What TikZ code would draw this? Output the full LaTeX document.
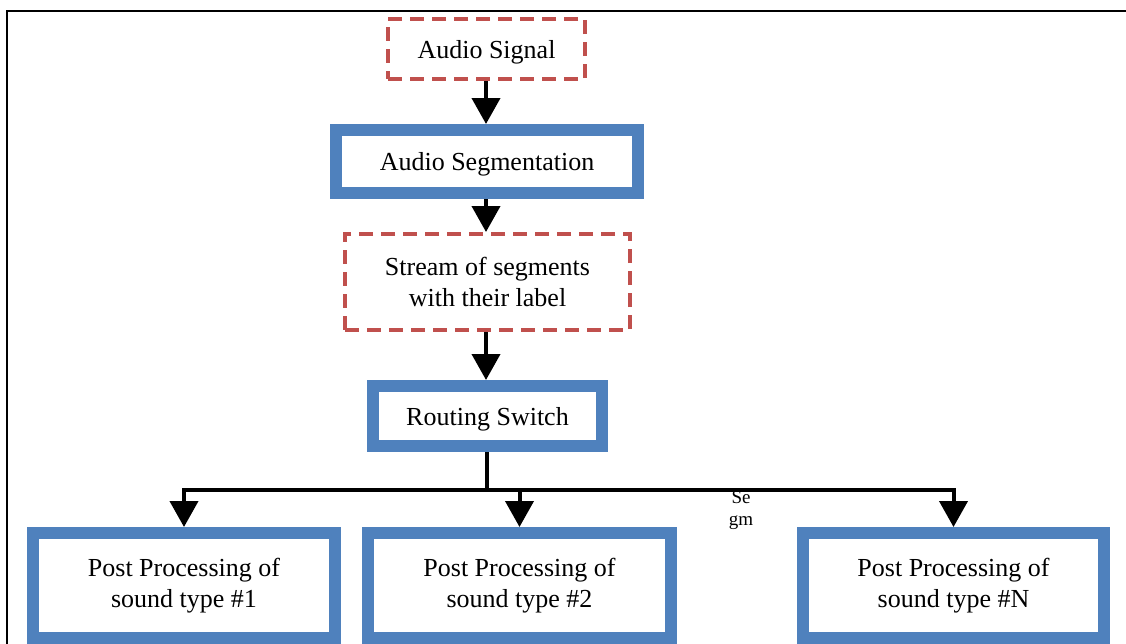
\documentclass[tikz,border=0pt]{standalone}
\usepackage{fontspec}
\setmainfont{Liberation Serif}
\usetikzlibrary{arrows.meta}
\definecolor{boxblue}{HTML}{4F81BD}
\definecolor{boxred}{HTML}{C0504D}
\tikzset{
  bluebox/.style={draw=boxblue, line width=12pt, fill=white, rectangle, align=center, inner sep=0pt,
    font=\fontsize{26}{31}\selectfont},
  redbox/.style={draw=boxred, line width=4pt, dash pattern=on 14pt off 8pt, fill=white, rectangle, align=center, inner sep=0pt,
    font=\fontsize{26}{31}\selectfont},
  oneline/.style={text depth=0pt},
  conn/.style={line width=4pt, draw=black},
  arr/.style={conn, -{Triangle[length=26pt,width=28pt]}},
}
\begin{document}
\begin{tikzpicture}[x=1pt,y=-1pt]
\useasboundingbox (0,0) rectangle (1126,643);
\clip (0,0) rectangle (1126,643);
\fill[white] (0,0) rectangle (1126,643);
% frame
\draw[line width=2pt] (7,650) -- (7,10.5) -- (1130,10.5);
% nodes
\node[redbox, oneline, minimum width=197pt, minimum height=60pt] (sig) at (486.5,49) {Audio Signal};
\node[bluebox, oneline, minimum width=302pt, minimum height=63pt] (seg) at (487,161.5) {Audio Segmentation};
\node[redbox, minimum width=285pt, minimum height=96pt] (str) at (487.5,282) {Stream of segments\\with their label};
\node[bluebox, oneline, minimum width=229pt, minimum height=60pt] (rs) at (487.5,416) {Routing Switch};
\node[bluebox, minimum width=302pt, minimum height=105pt] (p1) at (184,585.5) {Post Processing of\\sound type \#1};
\node[bluebox, minimum width=303pt, minimum height=105pt] (p2) at (519.5,585.5) {Post Processing of\\sound type \#2};
\node[bluebox, minimum width=301pt, minimum height=105pt] (pN) at (953.5,585.5) {Post Processing of\\sound type \#N};
% stray label
\node[font=\fontsize{19}{22}\selectfont, align=center, inner sep=0pt] (se) at (741,510) {Se\\gm};
% connectors
\draw[arr] (sig.south -| 486,0) -- (seg.north -| 486,0);
\draw[arr] (seg.south -| 486,0) -- (str.north -| 486,0);
\draw[arr] (str.south -| 486,0) -- (rs.north -| 486,0);
\coordinate (j) at (487,490);
\draw[conn] (rs.south -| j) -- (j);
\draw[conn, line cap=rect] (p1.north |- j) -- (pN.north |- j);
\draw[arr] (p1.north |- j) -- (p1.north);
\draw[arr] (p2.north |- j) -- (p2.north);
\draw[arr] (pN.north |- j) -- (pN.north);
\end{tikzpicture}
\end{document}
